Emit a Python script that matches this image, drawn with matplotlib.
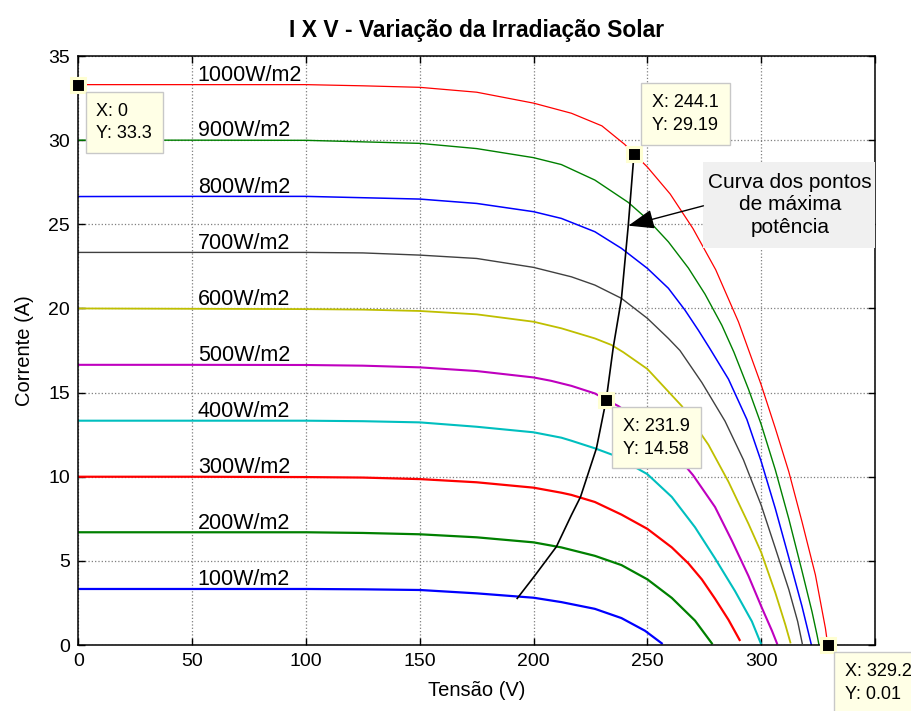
import matplotlib
matplotlib.use('Agg')
import matplotlib.pyplot as plt
from matplotlib.patches import Rectangle

plt.rcParams['font.family'] = ['Liberation Sans', 'DejaVu Sans']

# I x V curves, one pair of arrays per irradiance
labels = ['1000W/m2', '900W/m2', '800W/m2', '700W/m2', '600W/m2',
          '500W/m2', '400W/m2', '300W/m2', '200W/m2', '100W/m2']

v_1000 = [0, 50, 100, 125, 150, 175, 200, 216.6, 230, 240, 244.1, 250, 260, 270, 280, 290,
          300, 306.2, 312.1, 317.9, 323.8, 328.2, 329.2]
i_1000 = [33.3, 33.3, 33.3, 33.23, 33.14, 32.85, 32.2, 31.6, 30.85, 29.75, 29.19, 28.4, 26.8, 24.75, 22.3, 19.2,
          15.45, 12.87, 10.3, 7.33, 4.16, 0.99, 0.01]

v_900 = [0, 50, 100, 125, 150, 175, 200, 212.2, 226.9, 241.6, 250, 259.2, 268, 275.3, 282.7, 288,
         294.4, 300, 306.2, 312.1, 317.9, 322.3, 324.5, 325.3]
i_900 = [30.0, 30.0, 29.99, 29.9, 29.81, 29.5, 28.96, 28.55, 27.63, 26.3, 25.3, 23.96, 22.4, 20.85, 19.0, 17.4,
         15.2, 13.1, 10.4, 7.5, 4.4, 1.98, 0.6, 0.05]

v_800 = [0, 50, 100, 125, 150, 175, 200, 212.2, 226.9, 238.6, 250, 259.2, 266.5, 272.4, 277.5, 285.6,
         293.7, 300, 306.2, 312.1, 317.9, 321.6, 322.0]
i_800 = [26.65, 26.66, 26.66, 26.58, 26.5, 26.24, 25.75, 25.35, 24.56, 23.57, 22.38, 21.2, 19.9, 18.7, 17.6, 15.8,
         13.4, 10.9, 8.1, 5.2, 2.3, 0.25, 0.02]

v_700 = [0, 50, 100, 125, 150, 175, 200, 216.6, 226.9, 238.6, 250, 259.2, 264.3, 273.9, 284.1, 292.2,
         300, 306.2, 312.1, 316, 318]
i_700 = [23.33, 23.33, 23.33, 23.3, 23.17, 22.97, 22.44, 21.88, 21.39, 20.6, 19.41, 18.22, 17.5, 15.6, 13.3, 11.0,
         8.3, 5.75, 3.3, 1.4, 0.1]

v_600 = [0, 50, 100, 125, 150, 175, 200, 212.2, 226.9, 234.2, 239.4, 250, 265.1, 276.8, 285.6, 294.4,
         300, 306.2, 310.6, 312.8]
i_600 = [20.0, 19.98, 19.96, 19.93, 19.85, 19.65, 19.21, 18.82, 18.22, 17.83, 17.4, 16.4, 14.2, 11.9, 9.7, 7.2,
         5.5, 3.1, 1.2, 0.15]

v_500 = [0, 50, 100, 125, 150, 175, 200, 207.7, 216.6, 226.9, 231.9, 237.2, 250, 260, 270, 279.7,
         287.1, 294.4, 300.3, 304.7, 306.9]
i_500 = [16.65, 16.65, 16.64, 16.6, 16.5, 16.28, 15.9, 15.7, 15.4, 14.95, 14.58, 14.2, 13.0, 11.7, 10.1, 8.2,
         6.2, 4.1, 2.2, 0.85, 0.1]

v_400 = [0, 50, 100, 125, 150, 175, 200, 212.2, 216.6, 226.9, 235.7, 250, 260.7, 270.9, 279.7, 288.5,
         295.9, 299.8]
i_400 = [13.33, 13.33, 13.33, 13.3, 13.23, 12.97, 12.64, 12.32, 12.14, 11.69, 11.25, 10.15, 8.8, 7.0, 5.15, 3.2,
         1.4, 0.1]

v_300 = [0, 50, 100, 125, 150, 175, 200, 212.2, 216.6, 226.9, 238.6, 250, 260.7, 268, 273.9, 279.7,
         285.6, 290.5]
i_300 = [10.0, 10.0, 9.98, 9.95, 9.86, 9.67, 9.35, 9.05, 8.92, 8.5, 7.75, 6.9, 5.8, 4.85, 3.9, 2.75,
         1.5, 0.3]

v_200 = [0, 50, 100, 125, 150, 175, 200, 212.2, 226.9, 238.6, 250, 260.7, 270.9, 278.3]
i_200 = [6.7, 6.7, 6.7, 6.66, 6.58, 6.4, 6.1, 5.8, 5.3, 4.75, 3.9, 2.8, 1.45, 0.1]

v_100 = [0, 50, 100, 125, 150, 175, 200, 212.2, 226.9, 238.6, 248.9, 256.3]
i_100 = [3.33, 3.33, 3.33, 3.31, 3.27, 3.07, 2.81, 2.55, 2.15, 1.6, 0.85, 0.1]

# curve through the maximum power points
v_mpp = [192.8, 200.4, 210, 216.6, 220.6, 227.6, 231.9, 235, 238.6, 241.6, 244.1]
i_mpp = [2.77, 4.1, 5.84, 7.72, 8.8, 11.69, 14.58, 17.7, 20.6, 24.96, 29.19]

# data tips
tip_x = [0, 244.1, 231.9, 329.2]
tip_y = [33.3, 29.19, 14.58, 0.01]

x_ticks = [0, 50, 100, 150, 200, 250, 300, 350]
x_tick_labels = ['0', '50', '100', '150', '200', '250', '300', '']  # 350 sits under a data tip
y_ticks = [0, 5, 10, 15, 20, 25, 30, 35]

volts = [v_1000, v_900, v_800, v_700, v_600, v_500, v_400, v_300, v_200, v_100]
amps = [i_1000, i_900, i_800, i_700, i_600, i_500, i_400, i_300, i_200, i_100]
colors = ['#FF0000', '#008000', '#0000FF', '#404040', '#BFBF00',
          '#BF00BF', '#00BFBF', '#FF0000', '#008000', '#0000FF']
widths = [0.9, 1.0, 1.1, 1.0, 1.3, 1.5, 1.5, 1.6, 1.6, 1.6]

fig = plt.figure(figsize=(9.12, 7.11), dpi=100)
ax = fig.add_axes([0.0859, 0.0928, 0.8736, 0.8284])

for lab, v, i, c, lw in zip(labels, volts, amps, colors, widths):
    ax.plot(v, i, color=c, lw=lw, zorder=2)
    ax.text(52.5, i[0] + 0.22, lab, fontsize=15.5, ha='left', va='baseline', zorder=4)

ax.plot(v_mpp, i_mpp, color='black', lw=1.2, zorder=3)

# annotation box with arrow
ax.add_patch(Rectangle((274.6, 23.6), 350 - 274.6, 28.68 - 23.6, facecolor='#F0F0F0',
                       edgecolor='none', zorder=4, clip_on=False))
ax.text(312.5, 26.15, 'Curva dos pontos\nde máxima\npotência', fontsize=15, ha='center',
        va='center', linespacing=1.25, zorder=5)
ax.annotate('', xy=(241.6, 24.92), xytext=(274.6, 26.1),
            arrowprops=dict(arrowstyle='-|>,head_length=1.6,head_width=0.6', color='black',
                            lw=1, shrinkA=0, shrinkB=0), zorder=5)

# data tips
offsets = [(18, -18, 'top'), (18, 20, 'bottom'), (17, -18, 'top'), (17, -18, 'top')]
for x, y, (dx, dy, va) in zip(tip_x, tip_y, offsets):
    ax.plot(x, y, marker='s', ms=10, mfc='black', mec='#FFFFD2', mew=2.2,
            clip_on=False, zorder=6)
    ax.annotate('X: {:g}\nY: {:g}'.format(x, y), xy=(x, y), xytext=(dx, dy),
                textcoords='offset pixels', ha='left', va=va, fontsize=13, linespacing=1.45,
                bbox=dict(boxstyle='square,pad=0.6', facecolor='#FFFFE6', edgecolor='#C8C8C8', lw=1),
                annotation_clip=False, zorder=7)

ax.set_xlim(0, 350)
ax.set_ylim(0, 35)
ax.set_xticks(x_ticks)
ax.set_xticklabels(x_tick_labels)
ax.set_yticks(y_ticks)
ax.tick_params(direction='in', length=5, width=1, top=True, right=True, labelsize=14, pad=6)
ax.grid(True, color='#7F7F7F', ls=':', lw=0.9)
for sp in ax.spines.values():
    sp.set_linewidth(1.1)

ax.set_xlabel('Tensão (V)', fontsize=14.5, labelpad=8)
ax.set_ylabel('Corrente (A)', fontsize=14.5, labelpad=10)
ax.set_title('I X V - Variação da Irradiação Solar', fontsize=16.5, fontweight='bold', pad=14)

fig.savefig('out.png', dpi=100)
